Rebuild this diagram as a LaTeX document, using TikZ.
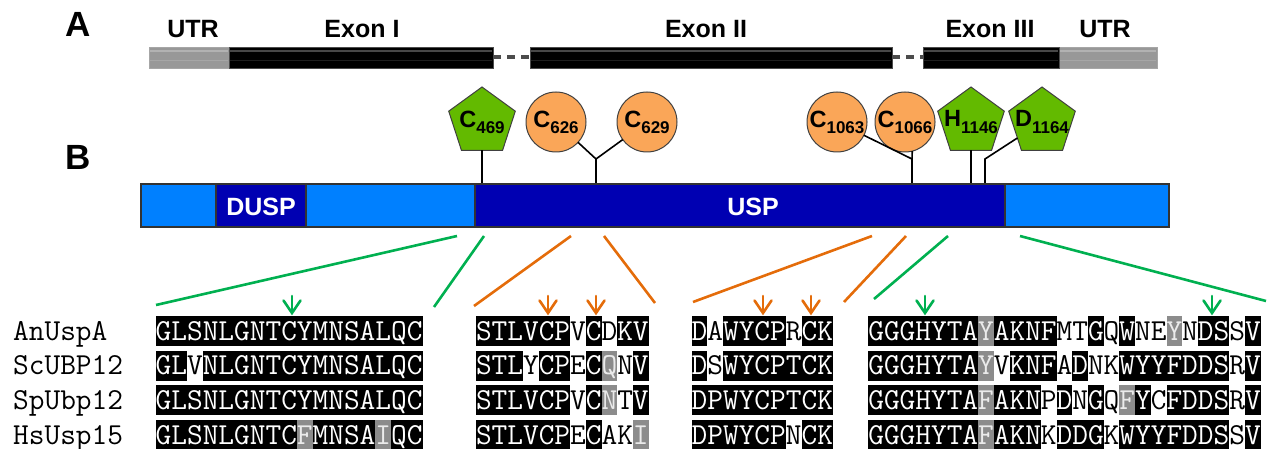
\documentclass[tikz,border=0pt]{standalone}
\usepackage{fontspec}
\setmainfont{Liberation Sans}
\usetikzlibrary{shapes.geometric}

\definecolor{lightblue}{RGB}{0,128,255}
\definecolor{darkblue}{RGB}{0,0,178}
\definecolor{pentafill}{RGB}{99,186,0}
\definecolor{cysfill}{RGB}{250,166,88}
\definecolor{greenline}{RGB}{0,176,80}
\definecolor{orangeline}{RGB}{228,108,10}
\definecolor{hlgray}{RGB}{140,140,140}
\definecolor{utrgray}{RGB}{152,152,152}

% residue label: letter with lowered position number
\newcommand\resid[2]{\makebox[0pt]{#1\raisebox{-6pt}{\fontsize{17}{17}\selectfont #2}}}

\tikzset{
  panel/.style={font=\fontsize{35}{35}\selectfont\bfseries, inner sep=0, anchor=base},
  genelbl/.style={font=\fontsize{25}{25}\selectfont\bfseries, inner sep=0, anchor=base},
  domlbl/.style={font=\fontsize{25}{25}\selectfont\bfseries, text=white, inner sep=0, anchor=base},
  site/.style={font=\fontsize{23.5}{23.5}\selectfont\bfseries, inner sep=0, outer sep=0,
               draw=black!75, line width=1pt},
  cys/.style={site, circle, minimum size=60pt, fill=cysfill},
  cat/.style={site, regular polygon, regular polygon sides=5, minimum size=70pt, fill=pentafill},
  stem/.style={line width=1.6pt, black},
  barline/.style={draw=black!80, line width=1.4pt},
  exon/.style={fill=black, draw=black!70, line width=0.6pt},
  utr/.style={fill=utrgray, draw=gray!70, line width=0.6pt},
  intron/.style={black!70, line width=4pt, dash pattern=on 8pt off 6pt},
  zoomg/.style={greenline, line width=2.6pt},
  zoomo/.style={orangeline, line width=2.6pt},
  seqfont/.style={font=\ttfamily\fontsize{30.4762}{30}\selectfont},
  seq/.style={seqfont, inner sep=0, outer sep=0, minimum height=30pt,
              text height=22pt, text depth=4pt, anchor=north west},
  segk/.style={fill=black, text=white},
  segg/.style={fill=hlgray, text=white!92!black},
  segw/.style={text=black},
  seqname/.style={seqfont, inner sep=0, anchor=base west},
  start/.style={inner sep=0, outer sep=0, minimum size=0pt},
  pics/site mark/.style={code={
    \draw[line width=2.6pt, line cap=round] (0,-17) -- (0,0);
    \draw[line width=2.6pt, line cap=round, line join=miter] (-8.5,-12.5) -- (0,0) -- (8.5,-12.5);
  }},
}

% one aligned row: id, left x, top y, list of highlight/segment pairs
\newcommand\alnrow[4]{%
  \node[start] (#1-0) at (#2,#3) {};
  \foreach \k/\s [count=\i, remember=\i as \j (initially 0)] in {#4}
    \node[seq, seg\k] (#1-\i) at (#1-\j.north east) {\s};
}

\begin{document}
\begin{tikzpicture}[x=1pt, y=-1pt]
\useasboundingbox (0,0) rectangle (1276,449);

% ---------- A: gene structure ----------
\node[panel] (labA) at (78,37) {A};
\node[genelbl] (utr5) at (193,38) {UTR};
\node[genelbl] (ex1) at (362,38) {Exon I};
\node[genelbl] (ex2) at (706,38) {Exon II};
\node[genelbl] (ex3) at (990,38) {Exon III};
\node[genelbl] (utr3) at (1105,38) {UTR};

\draw[intron] (493,57.5) -- (530,57.5);
\draw[intron] (892,57.5) -- (923,57.5);
\draw[utr] (149,47) rectangle (229,68);
\draw[utr] (1059,47) rectangle (1157,68);
\foreach \a/\b in {149/229, 1059/1157}{
  \draw[gray!60, line width=1.6pt] (\a+1,51) -- (\b-1,51);
  \draw[gray!70, line width=1.2pt] (\a+1,60.5) -- (\b-1,60.5);
}
\draw[exon] (229,47) rectangle (493,68);
\draw[exon] (530,47) rectangle (892,68);
\draw[exon] (923,47) rectangle (1059,68);
\foreach \a/\b in {229/493, 530/892, 923/1059}{
  \draw[black!72, line width=1.4pt] (\a+1,51) -- (\b-1,51);
  \draw[black!88, line width=1pt] (\a+1,60.5) -- (\b-1,60.5);
}

% ---------- B: protein domains ----------
\node[panel] (labB) at (78,170) {B};

\coordinate (bar) at (141,184);
\coordinate (j1) at (596,159);
\coordinate (j2) at (912,159);
\coordinate (j3) at (985,159);

\node[cat] (p469) at (482,122) {\resid{C}{469}};
\node[cys] (c626) at (556,122) {\resid{C}{626}};
\node[cys] (c629) at (647,122) {\resid{C}{629}};
\node[cys] (c1063) at (837,122) {\resid{C}{1063}};
\node[cys] (c1066) at (905,122) {\resid{C}{1066}};
\node[cat] (h1146) at (971,122) {\resid{H}{1146}};
\node[cat] (d1164) at (1042,122) {\resid{D}{1164}};

\draw[stem] (p469.south) -- (p469.south |- bar);
\draw[stem] (c626) -- (j1) -- (c629);
\draw[stem] (j1) -- (j1 |- bar);
\draw[stem] (c1063) -- (j2);
\draw[stem] (c1066.-76) -- (j2) -- (j2 |- bar);
\draw[stem] (h1146.south) -- (h1146.south |- bar);
\draw[stem] (d1164) -- (j3) -- (j3 |- bar);

\draw[barline, fill=lightblue] (141,184) rectangle (1169,227);
\draw[barline, fill=darkblue] (216,184) rectangle (306,227);
\draw[barline, fill=darkblue] (475,184) rectangle (1005,227);
\node[domlbl] (dusp) at (261,215) {DUSP};
\node[domlbl] (usp) at (753,215) {USP};

% ---------- zoom-in connectors ----------
\coordinate (g1s) at (457,236); \coordinate (g1e) at (156,305);
\coordinate (g2s) at (484,236); \coordinate (g2e) at (434,307);
\coordinate (o1s) at (571,236); \coordinate (o1e) at (474,306);
\coordinate (o2s) at (604,236); \coordinate (o2e) at (655,303);
\coordinate (o3s) at (872,236); \coordinate (o3e) at (693,302);
\coordinate (o4s) at (906,236); \coordinate (o4e) at (844,302);
\coordinate (g3s) at (948,236); \coordinate (g3e) at (874,299);
\coordinate (g4s) at (1020,236); \coordinate (g4e) at (1266,301);
\draw[zoomg] (g1s) -- (g1e);
\draw[zoomg] (g2s) -- (g2e);
\draw[zoomo] (o1s) -- (o1e);
\draw[zoomo] (o2s) -- (o2e);
\draw[zoomo] (o3s) -- (o3e);
\draw[zoomo] (o4s) -- (o4e);
\draw[zoomg] (g3s) -- (g3e);
\draw[zoomg] (g4s) -- (g4e);

% conserved catalytic residues
\coordinate (m1) at (292,313);
\coordinate (m2) at (548,313);
\coordinate (m3) at (596,313);
\coordinate (m4) at (763,313);
\coordinate (m5) at (811,313);
\coordinate (m6) at (925,313);
\coordinate (m7) at (1212,313);
\pic[greenline] at (m1) {site mark};
\pic[orangeline] at (m2) {site mark};
\pic[orangeline] at (m3) {site mark};
\pic[orangeline] at (m4) {site mark};
\pic[orangeline] at (m5) {site mark};
\pic[greenline] at (m6) {site mark};
\pic[greenline] at (m7) {site mark};

% ---------- sequence alignment ----------
\node[seqname] (n1) at (13,340) {AnUspA};
\node[seqname] (n2) at (13,374.7) {ScUBP12};
\node[seqname] (n3) at (13,409.4) {SpUbp12};
\node[seqname] (n4) at (13,444.1) {HsUsp15};

% block 1
\alnrow{a1}{155.7}{316}{k/GLSNLGNTCYMNSALQC}
\alnrow{a2}{155.7}{350.7}{k/GL, w/V, k/NLGNTCYMNSALQC}
\alnrow{a3}{155.7}{385.4}{k/GLSNLGNTCYMNSALQC}
\alnrow{a4}{155.7}{420.1}{k/GLSNLGNTC, g/F, k/MNSA, g/I, k/QC}
% block 2
\alnrow{b1}{476}{316}{k/STLVCP, w/V, k/C, w/D, k/KV}
\alnrow{b2}{476}{350.7}{k/STL, w/Y, k/CP, w/E, k/C, g/Q, w/N, k/V}
\alnrow{b3}{476}{385.4}{k/STLVCP, w/V, k/C, g/N, w/T, k/V}
\alnrow{b4}{476}{420.1}{k/STLVCP, w/E, k/C, w/AK, g/I}
% block 3
\alnrow{c1}{691.7}{316}{k/D, w/A, k/WYCP, w/R, k/CK}
\alnrow{c2}{691.7}{350.7}{k/D, w/S, k/WYCPTCK}
\alnrow{c3}{691.7}{385.4}{k/DPWYCPTCK}
\alnrow{c4}{691.7}{420.1}{k/DPWYCP, w/N, k/CK}
% block 4
\alnrow{d1}{868.3}{316}{k/GGGHYTA, g/Y, k/AKNF, w/MT, k/G, w/Q, k/W, w/NE, g/Y, w/N, k/DS, w/S, k/V}
\alnrow{d2}{868.3}{350.7}{k/GGGHYTA, g/Y, w/V, k/KNF, w/A, k/D, w/NK, k/WYYFDDS, w/R, k/V}
\alnrow{d3}{868.3}{385.4}{k/GGGHYTA, g/F, k/AKN, w/P, k/D, w/N, k/G, w/Q, g/F, k/Y, w/C, k/FDDS, w/R, k/V}
\alnrow{d4}{868.3}{420.1}{k/GGGHYTA, g/F, k/AKN, w/K, k/DDG, w/K, k/WYYFDDS, w/S, k/V}
\end{tikzpicture}
\end{document}
